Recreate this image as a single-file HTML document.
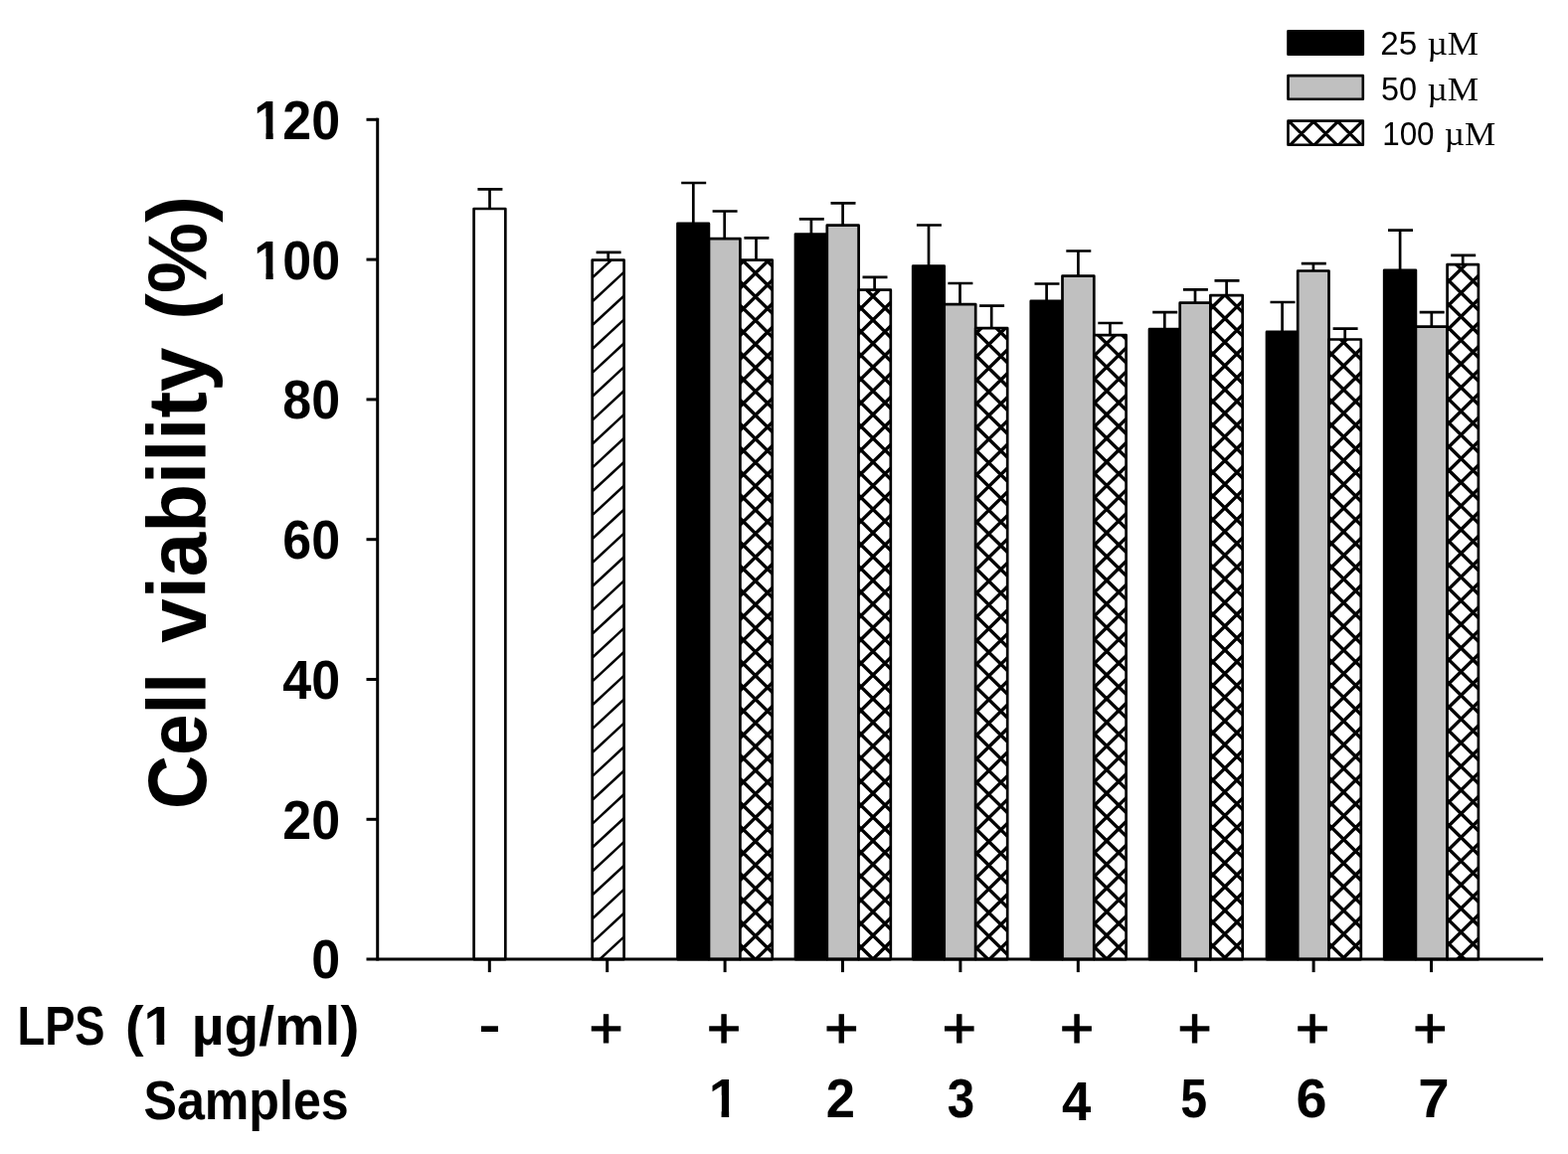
<!DOCTYPE html>
<html lang="en">
<head>
<meta charset="utf-8">
<title>Cell viability (%)</title>
<style>
html,body{margin:0;padding:0;background:#fff;}
body{width:1577px;height:1161px;overflow:hidden;font-family:"Liberation Sans",sans-serif;}
svg{display:block;}
</style>
</head>
<body>
<svg width="1577" height="1161" viewBox="0 0 1577 1161">
<defs>
<clipPath id="b1"><rect x="595.70" y="261.70" width="31.90" height="703.40"/></clipPath>
<clipPath id="b4"><rect x="744.40" y="261.70" width="32.30" height="703.40"/></clipPath>
<clipPath id="b7"><rect x="863.50" y="291.70" width="32.30" height="673.40"/></clipPath>
<clipPath id="b10"><rect x="981.20" y="330.20" width="32.00" height="634.90"/></clipPath>
<clipPath id="b13"><rect x="1100.30" y="337.20" width="32.30" height="627.90"/></clipPath>
<clipPath id="b16"><rect x="1217.40" y="297.10" width="32.30" height="668.00"/></clipPath>
<clipPath id="b19"><rect x="1336.50" y="341.50" width="32.30" height="623.60"/></clipPath>
<clipPath id="b22"><rect x="1455.60" y="266.10" width="31.30" height="699.00"/></clipPath>
<clipPath id="lg"><rect x="1295.5" y="121.6" width="75.3" height="24.2"/></clipPath>
</defs>
<rect width="1577" height="1161" fill="#fff"/>
<g stroke="#000" stroke-width="2.7" fill="none">
<path d="M492.5,210.0 V190.4 M480.4,190.4 H505.4"/>
<path d="M611.7,261.7 V253.8 M599.6,253.8 H624.6"/>
<path d="M697.3,224.9 V184.0 M685.2,184.0 H710.2"/>
<path d="M728.7,240.2 V212.5 M716.6,212.5 H741.6"/>
<path d="M760.5,261.7 V239.4 M748.4,239.4 H773.4"/>
<path d="M815.9,235.6 V220.4 M803.8,220.4 H828.8"/>
<path d="M847.6,226.7 V204.4 M835.5,204.4 H860.5"/>
<path d="M879.6,291.7 V278.8 M867.5,278.8 H892.5"/>
<path d="M934.0,267.6 V226.5 M921.9,226.5 H946.9"/>
<path d="M965.5,306.2 V285.0 M953.4,285.0 H978.4"/>
<path d="M997.2,330.2 V307.7 M985.1,307.7 H1010.1"/>
<path d="M1052.6,302.9 V285.5 M1040.5,285.5 H1065.5"/>
<path d="M1084.4,277.6 V252.5 M1072.3,252.5 H1097.3"/>
<path d="M1116.4,337.2 V325.0 M1104.3,325.0 H1129.3"/>
<path d="M1171.3,331.2 V314.1 M1159.2,314.1 H1184.2"/>
<path d="M1202.0,304.7 V291.3 M1189.9,291.3 H1214.9"/>
<path d="M1233.6,297.1 V282.4 M1221.5,282.4 H1246.5"/>
<path d="M1289.6,333.9 V304.0 M1277.5,304.0 H1302.5"/>
<path d="M1320.9,272.5 V265.2 M1308.8,265.2 H1333.8"/>
<path d="M1352.7,341.5 V330.6 M1340.6,330.6 H1365.6"/>
<path d="M1408.1,271.8 V231.7 M1396.0,231.7 H1421.0"/>
<path d="M1439.8,328.6 V314.1 M1427.7,314.1 H1452.7"/>
<path d="M1471.2,266.1 V256.8 M1459.2,256.8 H1484.2"/>
</g>
<g stroke="#000" stroke-width="2.7" stroke-linejoin="round">
<rect x="476.6" y="210.0" width="31.7" height="755.1" fill="#fff"/>
<rect x="595.7" y="261.7" width="31.9" height="703.4" fill="#fff"/>
<path clip-path="url(#b1)" stroke-width="2.5" fill="none" d="M593.70,233.49L629.60,200.21M593.70,257.37L629.60,224.10M593.70,281.26L629.60,247.98M593.70,305.14L629.60,271.87M593.70,329.03L629.60,295.75M593.70,352.91L629.60,319.64M593.70,376.80L629.60,343.52M593.70,400.68L629.60,367.41M593.70,424.57L629.60,391.29M593.70,448.45L629.60,415.18M593.70,472.34L629.60,439.06M593.70,496.22L629.60,462.95M593.70,520.11L629.60,486.83M593.70,543.99L629.60,510.72M593.70,567.88L629.60,534.60M593.70,591.76L629.60,558.49M593.70,615.65L629.60,582.37M593.70,639.53L629.60,606.26M593.70,663.42L629.60,630.14M593.70,687.30L629.60,654.03M593.70,711.19L629.60,677.91M593.70,735.07L629.60,701.80M593.70,758.96L629.60,725.68M593.70,782.84L629.60,749.57M593.70,806.73L629.60,773.45M593.70,830.61L629.60,797.34M593.70,854.50L629.60,821.22M593.70,878.38L629.60,845.11M593.70,902.27L629.60,868.99M593.70,926.15L629.60,892.88M593.70,950.04L629.60,916.76M593.70,973.92L629.60,940.65M593.70,997.81L629.60,964.53M593.70,1021.69L629.60,988.42"/>
<rect x="681.5" y="224.9" width="31.4" height="740.2" fill="#000"/>
<rect x="713.0" y="240.2" width="31.4" height="724.9" fill="#c0c0c0"/>
<rect x="744.4" y="261.7" width="32.3" height="703.4" fill="#fff"/>
<path clip-path="url(#b4)" stroke-width="3.4" fill="none" d="M742.40,244.19L778.70,208.46M742.40,268.01L778.70,232.28M742.40,291.83L778.70,256.10M742.40,315.65L778.70,279.92M742.40,339.47L778.70,303.74M742.40,363.29L778.70,327.56M742.40,387.11L778.70,351.38M742.40,410.93L778.70,375.20M742.40,434.75L778.70,399.02M742.40,458.57L778.70,422.84M742.40,482.39L778.70,446.66M742.40,506.21L778.70,470.48M742.40,530.03L778.70,494.30M742.40,553.85L778.70,518.12M742.40,577.67L778.70,541.94M742.40,601.49L778.70,565.76M742.40,625.31L778.70,589.58M742.40,649.13L778.70,613.40M742.40,672.95L778.70,637.22M742.40,696.77L778.70,661.04M742.40,720.59L778.70,684.86M742.40,744.41L778.70,708.68M742.40,768.23L778.70,732.50M742.40,792.05L778.70,756.32M742.40,815.87L778.70,780.14M742.40,839.69L778.70,803.96M742.40,863.51L778.70,827.78M742.40,887.33L778.70,851.60M742.40,911.15L778.70,875.42M742.40,934.97L778.70,899.24M742.40,958.79L778.70,923.06M742.40,982.61L778.70,946.88M742.40,1006.43L778.70,970.70M742.40,209.93L778.70,245.66M742.40,233.75L778.70,269.48M742.40,257.57L778.70,293.30M742.40,281.39L778.70,317.12M742.40,305.21L778.70,340.94M742.40,329.03L778.70,364.76M742.40,352.85L778.70,388.58M742.40,376.67L778.70,412.40M742.40,400.49L778.70,436.22M742.40,424.31L778.70,460.04M742.40,448.13L778.70,483.86M742.40,471.95L778.70,507.68M742.40,495.77L778.70,531.50M742.40,519.59L778.70,555.32M742.40,543.41L778.70,579.14M742.40,567.23L778.70,602.96M742.40,591.05L778.70,626.78M742.40,614.87L778.70,650.60M742.40,638.69L778.70,674.42M742.40,662.51L778.70,698.24M742.40,686.33L778.70,722.06M742.40,710.15L778.70,745.88M742.40,733.97L778.70,769.70M742.40,757.79L778.70,793.52M742.40,781.61L778.70,817.34M742.40,805.43L778.70,841.16M742.40,829.25L778.70,864.98M742.40,853.07L778.70,888.80M742.40,876.89L778.70,912.62M742.40,900.71L778.70,936.44M742.40,924.53L778.70,960.26M742.40,948.35L778.70,984.08M742.40,972.17L778.70,1007.90"/>
<rect x="800.0" y="235.6" width="31.8" height="729.5" fill="#000"/>
<rect x="831.8" y="226.7" width="31.8" height="738.4" fill="#c0c0c0"/>
<rect x="863.5" y="291.7" width="32.3" height="673.4" fill="#fff"/>
<path clip-path="url(#b7)" stroke-width="3.4" fill="none" d="M861.50,266.60L897.80,230.87M861.50,290.42L897.80,254.69M861.50,314.24L897.80,278.51M861.50,338.06L897.80,302.33M861.50,361.88L897.80,326.15M861.50,385.70L897.80,349.97M861.50,409.52L897.80,373.79M861.50,433.34L897.80,397.61M861.50,457.16L897.80,421.43M861.50,480.98L897.80,445.25M861.50,504.80L897.80,469.07M861.50,528.62L897.80,492.89M861.50,552.44L897.80,516.71M861.50,576.26L897.80,540.53M861.50,600.08L897.80,564.35M861.50,623.90L897.80,588.17M861.50,647.72L897.80,611.99M861.50,671.54L897.80,635.81M861.50,695.36L897.80,659.63M861.50,719.18L897.80,683.45M861.50,743.00L897.80,707.27M861.50,766.82L897.80,731.09M861.50,790.64L897.80,754.91M861.50,814.46L897.80,778.73M861.50,838.28L897.80,802.55M861.50,862.10L897.80,826.37M861.50,885.92L897.80,850.19M861.50,909.74L897.80,874.01M861.50,933.56L897.80,897.83M861.50,957.38L897.80,921.65M861.50,981.20L897.80,945.47M861.50,1005.02L897.80,969.29M861.50,1028.84L897.80,993.11M861.50,234.12L897.80,269.85M861.50,257.94L897.80,293.67M861.50,281.76L897.80,317.49M861.50,305.58L897.80,341.31M861.50,329.40L897.80,365.13M861.50,353.22L897.80,388.95M861.50,377.04L897.80,412.77M861.50,400.86L897.80,436.59M861.50,424.68L897.80,460.41M861.50,448.50L897.80,484.23M861.50,472.32L897.80,508.05M861.50,496.14L897.80,531.87M861.50,519.96L897.80,555.69M861.50,543.78L897.80,579.51M861.50,567.60L897.80,603.33M861.50,591.42L897.80,627.15M861.50,615.24L897.80,650.97M861.50,639.06L897.80,674.79M861.50,662.88L897.80,698.61M861.50,686.70L897.80,722.43M861.50,710.52L897.80,746.25M861.50,734.34L897.80,770.07M861.50,758.16L897.80,793.89M861.50,781.98L897.80,817.71M861.50,805.80L897.80,841.53M861.50,829.62L897.80,865.35M861.50,853.44L897.80,889.17M861.50,877.26L897.80,912.99M861.50,901.08L897.80,936.81M861.50,924.90L897.80,960.63M861.50,948.72L897.80,984.45M861.50,972.54L897.80,1008.27"/>
<rect x="918.2" y="267.6" width="31.5" height="697.5" fill="#000"/>
<rect x="949.7" y="306.2" width="31.5" height="658.9" fill="#c0c0c0"/>
<rect x="981.2" y="330.2" width="32.0" height="634.9" fill="#fff"/>
<path clip-path="url(#b10)" stroke-width="3.4" fill="none" d="M979.20,313.92L1015.20,278.49M979.20,337.74L1015.20,302.31M979.20,361.56L1015.20,326.13M979.20,385.38L1015.20,349.95M979.20,409.20L1015.20,373.77M979.20,433.02L1015.20,397.59M979.20,456.84L1015.20,421.41M979.20,480.66L1015.20,445.23M979.20,504.48L1015.20,469.05M979.20,528.30L1015.20,492.87M979.20,552.12L1015.20,516.69M979.20,575.94L1015.20,540.51M979.20,599.76L1015.20,564.33M979.20,623.58L1015.20,588.15M979.20,647.40L1015.20,611.97M979.20,671.22L1015.20,635.79M979.20,695.04L1015.20,659.61M979.20,718.86L1015.20,683.43M979.20,742.68L1015.20,707.25M979.20,766.50L1015.20,731.07M979.20,790.32L1015.20,754.89M979.20,814.14L1015.20,778.71M979.20,837.96L1015.20,802.53M979.20,861.78L1015.20,826.35M979.20,885.60L1015.20,850.17M979.20,909.42L1015.20,873.99M979.20,933.24L1015.20,897.81M979.20,957.06L1015.20,921.63M979.20,980.88L1015.20,945.45M979.20,1004.70L1015.20,969.27M979.20,1028.52L1015.20,993.09M979.20,283.80L1015.20,319.23M979.20,307.62L1015.20,343.05M979.20,331.44L1015.20,366.87M979.20,355.26L1015.20,390.69M979.20,379.08L1015.20,414.51M979.20,402.90L1015.20,438.33M979.20,426.72L1015.20,462.15M979.20,450.54L1015.20,485.97M979.20,474.36L1015.20,509.79M979.20,498.18L1015.20,533.61M979.20,522.00L1015.20,557.43M979.20,545.82L1015.20,581.25M979.20,569.64L1015.20,605.07M979.20,593.46L1015.20,628.89M979.20,617.28L1015.20,652.71M979.20,641.10L1015.20,676.53M979.20,664.92L1015.20,700.35M979.20,688.74L1015.20,724.17M979.20,712.56L1015.20,747.99M979.20,736.38L1015.20,771.81M979.20,760.20L1015.20,795.63M979.20,784.02L1015.20,819.45M979.20,807.84L1015.20,843.27M979.20,831.66L1015.20,867.09M979.20,855.48L1015.20,890.91M979.20,879.30L1015.20,914.73M979.20,903.12L1015.20,938.55M979.20,926.94L1015.20,962.37M979.20,950.76L1015.20,986.19M979.20,974.58L1015.20,1010.01"/>
<rect x="1036.8" y="302.9" width="31.8" height="662.2" fill="#000"/>
<rect x="1068.5" y="277.6" width="31.8" height="687.5" fill="#c0c0c0"/>
<rect x="1100.3" y="337.2" width="32.3" height="627.9" fill="#fff"/>
<path clip-path="url(#b13)" stroke-width="3.4" fill="none" d="M1098.30,312.43L1134.60,276.70M1098.30,336.25L1134.60,300.52M1098.30,360.07L1134.60,324.34M1098.30,383.89L1134.60,348.16M1098.30,407.71L1134.60,371.98M1098.30,431.53L1134.60,395.80M1098.30,455.35L1134.60,419.62M1098.30,479.17L1134.60,443.44M1098.30,502.99L1134.60,467.26M1098.30,526.81L1134.60,491.08M1098.30,550.63L1134.60,514.90M1098.30,574.45L1134.60,538.72M1098.30,598.27L1134.60,562.54M1098.30,622.09L1134.60,586.36M1098.30,645.91L1134.60,610.18M1098.30,669.73L1134.60,634.00M1098.30,693.55L1134.60,657.82M1098.30,717.37L1134.60,681.64M1098.30,741.19L1134.60,705.46M1098.30,765.01L1134.60,729.28M1098.30,788.83L1134.60,753.10M1098.30,812.65L1134.60,776.92M1098.30,836.47L1134.60,800.74M1098.30,860.29L1134.60,824.56M1098.30,884.11L1134.60,848.38M1098.30,907.93L1134.60,872.20M1098.30,931.75L1134.60,896.02M1098.30,955.57L1134.60,919.84M1098.30,979.39L1134.60,943.66M1098.30,1003.21L1134.60,967.48M1098.30,1027.03L1134.60,991.30M1098.30,283.49L1134.60,319.22M1098.30,307.31L1134.60,343.04M1098.30,331.13L1134.60,366.86M1098.30,354.95L1134.60,390.68M1098.30,378.77L1134.60,414.50M1098.30,402.59L1134.60,438.32M1098.30,426.41L1134.60,462.14M1098.30,450.23L1134.60,485.96M1098.30,474.05L1134.60,509.78M1098.30,497.87L1134.60,533.60M1098.30,521.69L1134.60,557.42M1098.30,545.51L1134.60,581.24M1098.30,569.33L1134.60,605.06M1098.30,593.15L1134.60,628.88M1098.30,616.97L1134.60,652.70M1098.30,640.79L1134.60,676.52M1098.30,664.61L1134.60,700.34M1098.30,688.43L1134.60,724.16M1098.30,712.25L1134.60,747.98M1098.30,736.07L1134.60,771.80M1098.30,759.89L1134.60,795.62M1098.30,783.71L1134.60,819.44M1098.30,807.53L1134.60,843.26M1098.30,831.35L1134.60,867.08M1098.30,855.17L1134.60,890.90M1098.30,878.99L1134.60,914.72M1098.30,902.81L1134.60,938.54M1098.30,926.63L1134.60,962.36M1098.30,950.45L1134.60,986.18M1098.30,974.27L1134.60,1010.00"/>
<rect x="1156.0" y="331.2" width="30.7" height="633.9" fill="#000"/>
<rect x="1186.7" y="304.7" width="30.7" height="660.4" fill="#c0c0c0"/>
<rect x="1217.4" y="297.1" width="32.3" height="668.0" fill="#fff"/>
<path clip-path="url(#b16)" stroke-width="3.4" fill="none" d="M1215.40,289.00L1251.70,253.27M1215.40,312.82L1251.70,277.09M1215.40,336.64L1251.70,300.91M1215.40,360.46L1251.70,324.73M1215.40,384.28L1251.70,348.55M1215.40,408.10L1251.70,372.37M1215.40,431.92L1251.70,396.19M1215.40,455.74L1251.70,420.01M1215.40,479.56L1251.70,443.83M1215.40,503.38L1251.70,467.65M1215.40,527.20L1251.70,491.47M1215.40,551.02L1251.70,515.29M1215.40,574.84L1251.70,539.11M1215.40,598.66L1251.70,562.93M1215.40,622.48L1251.70,586.75M1215.40,646.30L1251.70,610.57M1215.40,670.12L1251.70,634.39M1215.40,693.94L1251.70,658.21M1215.40,717.76L1251.70,682.03M1215.40,741.58L1251.70,705.85M1215.40,765.40L1251.70,729.67M1215.40,789.22L1251.70,753.49M1215.40,813.04L1251.70,777.31M1215.40,836.86L1251.70,801.13M1215.40,860.68L1251.70,824.95M1215.40,884.50L1251.70,848.77M1215.40,908.32L1251.70,872.59M1215.40,932.14L1251.70,896.41M1215.40,955.96L1251.70,920.23M1215.40,979.78L1251.70,944.05M1215.40,1003.60L1251.70,967.87M1215.40,1027.42L1251.70,991.69M1215.40,232.70L1251.70,268.43M1215.40,256.52L1251.70,292.25M1215.40,280.34L1251.70,316.07M1215.40,304.16L1251.70,339.89M1215.40,327.98L1251.70,363.71M1215.40,351.80L1251.70,387.53M1215.40,375.62L1251.70,411.35M1215.40,399.44L1251.70,435.17M1215.40,423.26L1251.70,458.99M1215.40,447.08L1251.70,482.81M1215.40,470.90L1251.70,506.63M1215.40,494.72L1251.70,530.45M1215.40,518.54L1251.70,554.27M1215.40,542.36L1251.70,578.09M1215.40,566.18L1251.70,601.91M1215.40,590.00L1251.70,625.73M1215.40,613.82L1251.70,649.55M1215.40,637.64L1251.70,673.37M1215.40,661.46L1251.70,697.19M1215.40,685.28L1251.70,721.01M1215.40,709.10L1251.70,744.83M1215.40,732.92L1251.70,768.65M1215.40,756.74L1251.70,792.47M1215.40,780.56L1251.70,816.29M1215.40,804.38L1251.70,840.11M1215.40,828.20L1251.70,863.93M1215.40,852.02L1251.70,887.75M1215.40,875.84L1251.70,911.57M1215.40,899.66L1251.70,935.39M1215.40,923.48L1251.70,959.21M1215.40,947.30L1251.70,983.03M1215.40,971.12L1251.70,1006.85"/>
<rect x="1274.0" y="333.9" width="31.3" height="631.2" fill="#000"/>
<rect x="1305.2" y="272.5" width="31.3" height="692.6" fill="#c0c0c0"/>
<rect x="1336.5" y="341.5" width="32.3" height="623.6" fill="#fff"/>
<path clip-path="url(#b19)" stroke-width="3.4" fill="none" d="M1334.50,313.20L1370.80,277.47M1334.50,337.02L1370.80,301.29M1334.50,360.84L1370.80,325.11M1334.50,384.66L1370.80,348.93M1334.50,408.48L1370.80,372.75M1334.50,432.30L1370.80,396.57M1334.50,456.12L1370.80,420.39M1334.50,479.94L1370.80,444.21M1334.50,503.76L1370.80,468.03M1334.50,527.58L1370.80,491.85M1334.50,551.40L1370.80,515.67M1334.50,575.22L1370.80,539.49M1334.50,599.04L1370.80,563.31M1334.50,622.86L1370.80,587.13M1334.50,646.68L1370.80,610.95M1334.50,670.50L1370.80,634.77M1334.50,694.32L1370.80,658.59M1334.50,718.14L1370.80,682.41M1334.50,741.96L1370.80,706.23M1334.50,765.78L1370.80,730.05M1334.50,789.60L1370.80,753.87M1334.50,813.42L1370.80,777.69M1334.50,837.24L1370.80,801.51M1334.50,861.06L1370.80,825.33M1334.50,884.88L1370.80,849.15M1334.50,908.70L1370.80,872.97M1334.50,932.52L1370.80,896.79M1334.50,956.34L1370.80,920.61M1334.50,980.16L1370.80,944.43M1334.50,1003.98L1370.80,968.25M1334.50,1027.80L1370.80,992.07M1334.50,280.12L1370.80,315.85M1334.50,303.94L1370.80,339.67M1334.50,327.76L1370.80,363.49M1334.50,351.58L1370.80,387.31M1334.50,375.40L1370.80,411.13M1334.50,399.22L1370.80,434.95M1334.50,423.04L1370.80,458.77M1334.50,446.86L1370.80,482.59M1334.50,470.68L1370.80,506.41M1334.50,494.50L1370.80,530.23M1334.50,518.32L1370.80,554.05M1334.50,542.14L1370.80,577.87M1334.50,565.96L1370.80,601.69M1334.50,589.78L1370.80,625.51M1334.50,613.60L1370.80,649.33M1334.50,637.42L1370.80,673.15M1334.50,661.24L1370.80,696.97M1334.50,685.06L1370.80,720.79M1334.50,708.88L1370.80,744.61M1334.50,732.70L1370.80,768.43M1334.50,756.52L1370.80,792.25M1334.50,780.34L1370.80,816.07M1334.50,804.16L1370.80,839.89M1334.50,827.98L1370.80,863.71M1334.50,851.80L1370.80,887.53M1334.50,875.62L1370.80,911.35M1334.50,899.44L1370.80,935.17M1334.50,923.26L1370.80,958.99M1334.50,947.08L1370.80,982.81M1334.50,970.90L1370.80,1006.63"/>
<rect x="1392.2" y="271.8" width="31.7" height="693.3" fill="#000"/>
<rect x="1423.9" y="328.6" width="31.7" height="636.5" fill="#c0c0c0"/>
<rect x="1455.6" y="266.1" width="31.3" height="699.0" fill="#fff"/>
<path clip-path="url(#b22)" stroke-width="3.4" fill="none" d="M1453.60,238.71L1488.90,203.97M1453.60,262.53L1488.90,227.79M1453.60,286.35L1488.90,251.61M1453.60,310.17L1488.90,275.43M1453.60,333.99L1488.90,299.25M1453.60,357.81L1488.90,323.07M1453.60,381.63L1488.90,346.89M1453.60,405.45L1488.90,370.71M1453.60,429.27L1488.90,394.53M1453.60,453.09L1488.90,418.35M1453.60,476.91L1488.90,442.17M1453.60,500.73L1488.90,465.99M1453.60,524.55L1488.90,489.81M1453.60,548.37L1488.90,513.63M1453.60,572.19L1488.90,537.45M1453.60,596.01L1488.90,561.27M1453.60,619.83L1488.90,585.09M1453.60,643.65L1488.90,608.91M1453.60,667.47L1488.90,632.73M1453.60,691.29L1488.90,656.55M1453.60,715.11L1488.90,680.37M1453.60,738.93L1488.90,704.19M1453.60,762.75L1488.90,728.01M1453.60,786.57L1488.90,751.83M1453.60,810.39L1488.90,775.65M1453.60,834.21L1488.90,799.47M1453.60,858.03L1488.90,823.29M1453.60,881.85L1488.90,847.11M1453.60,905.67L1488.90,870.93M1453.60,929.49L1488.90,894.75M1453.60,953.31L1488.90,918.57M1453.60,977.13L1488.90,942.39M1453.60,1000.95L1488.90,966.21M1453.60,1024.77L1488.90,990.03M1453.60,207.61L1488.90,242.35M1453.60,231.43L1488.90,266.17M1453.60,255.25L1488.90,289.99M1453.60,279.07L1488.90,313.81M1453.60,302.89L1488.90,337.63M1453.60,326.71L1488.90,361.45M1453.60,350.53L1488.90,385.27M1453.60,374.35L1488.90,409.09M1453.60,398.17L1488.90,432.91M1453.60,421.99L1488.90,456.73M1453.60,445.81L1488.90,480.55M1453.60,469.63L1488.90,504.37M1453.60,493.45L1488.90,528.19M1453.60,517.27L1488.90,552.01M1453.60,541.09L1488.90,575.83M1453.60,564.91L1488.90,599.65M1453.60,588.73L1488.90,623.47M1453.60,612.55L1488.90,647.29M1453.60,636.37L1488.90,671.11M1453.60,660.19L1488.90,694.93M1453.60,684.01L1488.90,718.75M1453.60,707.83L1488.90,742.57M1453.60,731.65L1488.90,766.39M1453.60,755.47L1488.90,790.21M1453.60,779.29L1488.90,814.03M1453.60,803.11L1488.90,837.85M1453.60,826.93L1488.90,861.67M1453.60,850.75L1488.90,885.49M1453.60,874.57L1488.90,909.31M1453.60,898.39L1488.90,933.13M1453.60,922.21L1488.90,956.95M1453.60,946.03L1488.90,980.77M1453.60,969.85L1488.90,1004.59M1453.60,993.67L1488.90,1028.41"/>
</g>
<g stroke="#000" stroke-width="3" fill="none">
<path d="M379.7,118.7 V966.6"/>
<path d="M368.5,965.1 H1552"/>
<path d="M368.5,824.3 H380"/>
<path d="M368.5,683.5 H380"/>
<path d="M368.5,542.7 H380"/>
<path d="M368.5,401.9 H380"/>
<path d="M368.5,261.1 H380"/>
<path d="M368.5,120.3 H380"/>
<path d="M492.3,965.1 V978.1"/>
<path d="M610.7,965.1 V978.1"/>
<path d="M729.1,965.1 V978.1"/>
<path d="M847.5,965.1 V978.1"/>
<path d="M965.9,965.1 V978.1"/>
<path d="M1084.3,965.1 V978.1"/>
<path d="M1202.7,965.1 V978.1"/>
<path d="M1321.1,965.1 V978.1"/>
<path d="M1439.5,965.1 V978.1"/>
</g>
<g fill="#000">
<text transform="translate(313.13,983.50) scale(0.9280,1)" font-family="'Liberation Sans', sans-serif" font-weight="bold" font-size="56">0</text>
<text transform="translate(284.23,843.70) scale(0.9280,1)" font-family="'Liberation Sans', sans-serif" font-weight="bold" font-size="56">20</text>
<text transform="translate(284.23,702.90) scale(0.9280,1)" font-family="'Liberation Sans', sans-serif" font-weight="bold" font-size="56">40</text>
<text transform="translate(284.23,562.10) scale(0.9280,1)" font-family="'Liberation Sans', sans-serif" font-weight="bold" font-size="56">60</text>
<text transform="translate(284.23,421.30) scale(0.9280,1)" font-family="'Liberation Sans', sans-serif" font-weight="bold" font-size="56">80</text>
<clipPath id="k1"><path d="M13.08,-42.00H20.83V2.80H13.08Z M0.00,-42.00H16.80V-22.40H0.00Z M30.52,-56.00H168.00V22.40H30.52Z"/></clipPath>
<text transform="translate(255.33,280.50) scale(0.9280,1)" font-family="'Liberation Sans', sans-serif" font-weight="bold" font-size="56" clip-path="url(#k1)">100</text>
<clipPath id="k2"><path d="M13.08,-42.00H20.83V2.80H13.08Z M0.00,-42.00H16.80V-22.40H0.00Z M30.52,-56.00H168.00V22.40H30.52Z"/></clipPath>
<text transform="translate(255.33,139.70) scale(0.9280,1)" font-family="'Liberation Sans', sans-serif" font-weight="bold" font-size="56" clip-path="url(#k2)">120</text>
<text transform="translate(206.6,811) rotate(-90)" y="0.00" font-family="'Liberation Sans', sans-serif" font-weight="bold" font-size="82.5"><tspan x="-3.07" textLength="137.16" lengthAdjust="spacingAndGlyphs">Cell</tspan> <tspan x="164.29" textLength="297.24" lengthAdjust="spacingAndGlyphs">viability</tspan> <tspan x="489.31" textLength="124.58" lengthAdjust="spacingAndGlyphs">(%)</tspan></text>
<clipPath id="kl"><path clip-rule="evenodd" d="M0,990H400V1080H0Z M145.62,1044.50H157.53V1051.90H145.62Z M165.26,1044.50H175.74V1051.90H165.26Z"/></clipPath>
<text y="1050.80" font-family="'Liberation Sans', sans-serif" font-weight="bold" font-size="54.8" clip-path="url(#kl)"><tspan x="17.47" textLength="88.10" lengthAdjust="spacingAndGlyphs">LPS</tspan> <tspan x="125.93" textLength="49.59" lengthAdjust="spacingAndGlyphs">(1</tspan> <tspan x="192.68" textLength="168.66" lengthAdjust="spacingAndGlyphs">µg/ml)</tspan></text>
<text transform="translate(144.46,1126.30) scale(0.9152,1)" font-family="'Liberation Sans', sans-serif" font-weight="bold" font-size="54.8">Samples</text>
<text transform="translate(481.17,1048.13) scale(1.4031,1)" font-family="'Liberation Sans', sans-serif" font-weight="bold" font-size="48">-</text>
<text transform="translate(592.50,1053.50) scale(1.0255,1)" font-family="'Liberation Sans', sans-serif" font-weight="normal" font-size="57" stroke="#000" stroke-width="1.2">+</text>
<text transform="translate(710.90,1053.50) scale(1.0255,1)" font-family="'Liberation Sans', sans-serif" font-weight="normal" font-size="57" stroke="#000" stroke-width="1.2">+</text>
<text transform="translate(829.30,1053.50) scale(1.0255,1)" font-family="'Liberation Sans', sans-serif" font-weight="normal" font-size="57" stroke="#000" stroke-width="1.2">+</text>
<text transform="translate(947.70,1053.50) scale(1.0255,1)" font-family="'Liberation Sans', sans-serif" font-weight="normal" font-size="57" stroke="#000" stroke-width="1.2">+</text>
<text transform="translate(1066.10,1053.50) scale(1.0255,1)" font-family="'Liberation Sans', sans-serif" font-weight="normal" font-size="57" stroke="#000" stroke-width="1.2">+</text>
<text transform="translate(1184.50,1053.50) scale(1.0255,1)" font-family="'Liberation Sans', sans-serif" font-weight="normal" font-size="57" stroke="#000" stroke-width="1.2">+</text>
<text transform="translate(1302.90,1053.50) scale(1.0255,1)" font-family="'Liberation Sans', sans-serif" font-weight="normal" font-size="57" stroke="#000" stroke-width="1.2">+</text>
<text transform="translate(1421.30,1053.50) scale(1.0255,1)" font-family="'Liberation Sans', sans-serif" font-weight="normal" font-size="57" stroke="#000" stroke-width="1.2">+</text>
<clipPath id="k3"><path d="M12.96,-41.62H20.65V2.78H12.96Z M0.00,-41.62H16.65V-22.20H0.00Z"/></clipPath>
<text transform="translate(712.63,1124.00) scale(0.9993,1)" font-family="'Liberation Sans', sans-serif" font-weight="bold" font-size="55.5" clip-path="url(#k3)">1</text>
<text transform="translate(830.78,1124.20) scale(0.9468,1)" font-family="'Liberation Sans', sans-serif" font-weight="bold" font-size="55.5">2</text>
<text transform="translate(952.67,1124.00) scale(0.8881,1)" font-family="'Liberation Sans', sans-serif" font-weight="bold" font-size="55.5">3</text>
<text transform="translate(1068.10,1127.00) scale(0.9486,1)" font-family="'Liberation Sans', sans-serif" font-weight="bold" font-size="55.5">4</text>
<text transform="translate(1187.22,1124.00) scale(0.8691,1)" font-family="'Liberation Sans', sans-serif" font-weight="bold" font-size="55.5">5</text>
<text transform="translate(1303.55,1124.00) scale(1.0064,1)" font-family="'Liberation Sans', sans-serif" font-weight="bold" font-size="55.5">6</text>
<text transform="translate(1426.37,1124.00) scale(1.0176,1)" font-family="'Liberation Sans', sans-serif" font-weight="bold" font-size="55.5">7</text>
<text y="55.30" font-family="'Liberation Sans', sans-serif" font-weight="normal" font-size="33.5"><tspan x="1388.23" textLength="36.97" lengthAdjust="spacingAndGlyphs">25</tspan> <tspan x="1435.56" textLength="51.67" lengthAdjust="spacingAndGlyphs" font-family="'Liberation Serif', serif" font-size="33.7">µM</tspan></text>
<text y="100.80" font-family="'Liberation Sans', sans-serif" font-weight="normal" font-size="33.5"><tspan x="1389.00" textLength="36.06" lengthAdjust="spacingAndGlyphs">50</tspan> <tspan x="1435.56" textLength="51.67" lengthAdjust="spacingAndGlyphs" font-family="'Liberation Serif', serif" font-size="33.7">µM</tspan></text>
<text y="145.90" font-family="'Liberation Sans', sans-serif" font-weight="normal" font-size="33.5"><tspan x="1390.21" textLength="52.31" lengthAdjust="spacingAndGlyphs">100</tspan> <tspan x="1452.77" textLength="51.46" lengthAdjust="spacingAndGlyphs" font-family="'Liberation Serif', serif" font-size="33.7">µM</tspan></text>
</g>
<g stroke="#000" stroke-width="2.6" stroke-linejoin="round">
<rect x="1295.5" y="31.2" width="75.3" height="23.6" fill="#000"/>
<rect x="1295.5" y="76.1" width="75.3" height="23.6" fill="#c0c0c0"/>
<rect x="1295.5" y="121.6" width="75.3" height="24.2" fill="#fff"/>
<path clip-path="url(#lg)" fill="none" stroke-width="3.2" d="M1293.50,101.10L1372.80,21.80M1293.50,125.50L1372.80,46.20M1293.50,149.90L1372.80,70.60M1293.50,174.30L1372.80,95.00M1293.50,198.70L1372.80,119.40M1293.50,223.10L1372.80,143.80M1293.50,247.50L1372.80,168.20M1293.50,21.50L1372.80,100.80M1293.50,45.90L1372.80,125.20M1293.50,70.30L1372.80,149.60M1293.50,94.70L1372.80,174.00M1293.50,119.10L1372.80,198.40M1293.50,143.50L1372.80,222.80M1293.50,167.90L1372.80,247.20"/>
</g>
</svg>
</body>
</html>
